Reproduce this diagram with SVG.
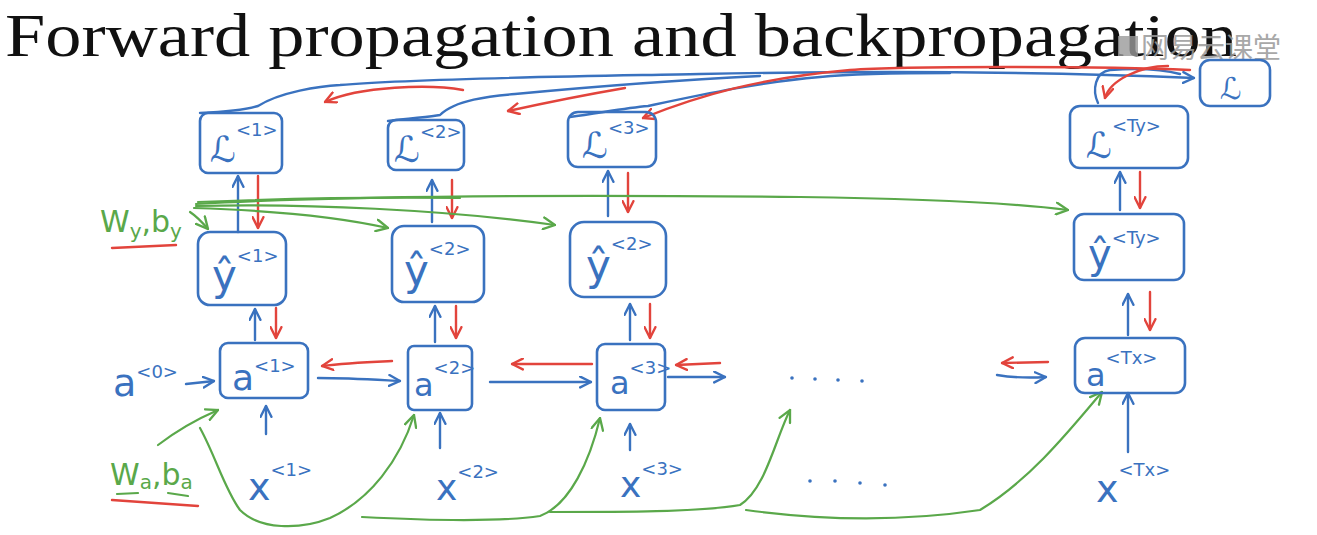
<svg xmlns="http://www.w3.org/2000/svg" width="1317" height="535" viewBox="0 0 1317 535">
<style>
.bx{fill:none;stroke:#3a72bf;stroke-width:2.6;stroke-linecap:round;stroke-linejoin:round}
.b{fill:none;stroke:#3a72bf;stroke-width:2.4;stroke-linecap:round;stroke-linejoin:round}
.r{fill:none;stroke:#e2443c;stroke-width:2.4;stroke-linecap:round;stroke-linejoin:round}
.g{fill:none;stroke:#5aa84a;stroke-width:2.2;stroke-linecap:round;stroke-linejoin:round}
.t{font-family:"DejaVu Sans",sans-serif;fill:#3a72bf}
.big{font-size:36px}
.sup{font-size:18px}
.gt{font-family:"DejaVu Sans",sans-serif;fill:#5aa84a}
</style>
<defs>
<marker id="ab" viewBox="0 0 12 12" refX="11" refY="6" markerWidth="13" markerHeight="13" markerUnits="userSpaceOnUse" orient="auto"><path d="M1,1 L11,6 L1,11" fill="none" stroke="#3a72bf" stroke-width="2.2" stroke-linecap="round"/></marker>
<marker id="ar" viewBox="0 0 12 12" refX="11" refY="6" markerWidth="13" markerHeight="13" markerUnits="userSpaceOnUse" orient="auto"><path d="M1,1 L11,6 L1,11" fill="none" stroke="#e2443c" stroke-width="2.2" stroke-linecap="round"/></marker>
<marker id="ag" viewBox="0 0 12 12" refX="11" refY="6" markerWidth="14" markerHeight="14" markerUnits="userSpaceOnUse" orient="auto"><path d="M1,1 L11,6 L1,11" fill="none" stroke="#5aa84a" stroke-width="2" stroke-linecap="round"/></marker>
</defs>
<rect width="1317" height="535" fill="#ffffff"/>

<text x="5" y="56" font-family="Liberation Serif, serif" font-size="62" fill="#111" textLength="1232" lengthAdjust="spacingAndGlyphs">Forward propagation and backpropagation</text>
<g id="watermark">
<rect x="1118" y="36" width="20" height="20" fill="#9a9a9a" opacity="0.8"/>
<text x="1141" y="58" font-family="Noto Sans CJK SC, sans-serif" font-size="28" fill="#9a9a9a" opacity="0.85">网易云课堂</text>
</g>

<g id="connectors">
<path class="b" d="M200,113 C225,112 245,110 258,106 C280,92 320,86 340,85 C420,78 600,76 700,74 C900,70 1050,72 1194,78" marker-end="url(#ab)"/>
<path class="b" d="M388,121 C410,118 430,117 440,115 C455,100 490,96 515,94 C600,86 680,80 760,76"/>
<path class="b" d="M570,117 C600,113 625,108 648,106 C700,95 760,82 820,77 C850,74 900,73 950,73"/>
<path class="b" d="M1098,103 C1092,90 1095,72 1110,70 C1140,68 1165,70 1180,74"/>
<path class="r" d="M1190,70 C1100,66 900,66 850,70 C760,78 700,95 643,118" marker-end="url(#ar)"/>
<path class="r" d="M625,88 C590,94 540,104 508,111" marker-end="url(#ar)"/>
<path class="r" d="M463,90 C430,84 360,86 325,102" marker-end="url(#ar)"/>
<path class="r" d="M1168,66 C1140,66 1110,80 1105,98" marker-end="url(#ar)"/>
<path class="b" d="M238,232 L238,176" marker-end="url(#ab)"/>
<path class="r" d="M258,176 L258,228" marker-end="url(#ar)"/>
<path class="b" d="M432,222 L432,180" marker-end="url(#ab)"/>
<path class="r" d="M452,180 L452,218" marker-end="url(#ar)"/>
<path class="b" d="M608,216 L608,171" marker-end="url(#ab)"/>
<path class="r" d="M628,173 L628,212" marker-end="url(#ar)"/>
<path class="b" d="M1120,210 L1120,172" marker-end="url(#ab)"/>
<path class="r" d="M1140,172 L1140,208" marker-end="url(#ar)"/>
<path class="b" d="M255,340 L255,309" marker-end="url(#ab)"/>
<path class="r" d="M276,308 L276,338" marker-end="url(#ar)"/>
<path class="b" d="M435,342 L435,306" marker-end="url(#ab)"/>
<path class="r" d="M456,306 L456,338" marker-end="url(#ar)"/>
<path class="b" d="M630,340 L630,304" marker-end="url(#ab)"/>
<path class="r" d="M650,304 L650,338" marker-end="url(#ar)"/>
<path class="b" d="M1128,335 L1128,294" marker-end="url(#ab)"/>
<path class="r" d="M1150,292 L1150,330" marker-end="url(#ar)"/>
<path class="b" d="M266,434 L266,406" marker-end="url(#ab)"/>
<path class="b" d="M440,448 L440,413" marker-end="url(#ab)"/>
<path class="b" d="M630,450 L630,424" marker-end="url(#ab)"/>
<path class="b" d="M1128,452 L1128,393" marker-end="url(#ab)"/>
<path class="b" d="M186,384 L214,381" marker-end="url(#ab)"/>
<path class="b" d="M318,378 C350,378 380,380 400,381" marker-end="url(#ab)"/>
<path class="r" d="M392,361 C370,362 345,363 322,366" marker-end="url(#ar)"/>
<path class="b" d="M490,382 L591,382" marker-end="url(#ab)"/>
<path class="r" d="M592,364 L512,364" marker-end="url(#ar)"/>
<path class="b" d="M668,377 L725,377" marker-end="url(#ab)"/>
<path class="r" d="M720,363 L676,365" marker-end="url(#ar)"/>
<path class="b" d="M997,375 C1015,378 1030,378 1046,377" marker-end="url(#ab)"/>
<path class="r" d="M1048,362 L1002,363" marker-end="url(#ar)"/>
<path class="g" d="M190,212 C196,216 202,222 208,229" marker-end="url(#ag)"/>
<path class="g" d="M194,208 C260,210 330,215 388,228" marker-end="url(#ag)"/>
<path class="g" d="M196,206 C300,203 450,210 555,225" marker-end="url(#ag)"/>
<path class="g" d="M196,204 C350,195 600,195 800,197 C950,199 1020,204 1068,210" marker-end="url(#ag)"/>
<path class="g" d="M198,202 C300,198 380,197 460,198"/>
<path class="g" d="M158,445 C175,432 195,420 218,410" marker-end="url(#ag)"/>
<path class="g" d="M200,428 C215,455 225,490 240,510 C260,530 300,530 330,518 C370,500 400,460 414,415" marker-end="url(#ag)"/>
<path class="g" d="M362,517 C420,520 500,522 540,516 C570,505 590,460 600,418" marker-end="url(#ag)"/>
<path class="g" d="M550,512 C620,512 700,512 740,505 C765,490 775,440 790,410" marker-end="url(#ag)"/>
<path class="g" d="M746,510 C820,520 900,522 980,510 C1030,480 1070,430 1102,392" marker-end="url(#ag)"/>
<path class="r" d="M112,248 L176,245"/>
<path class="r" d="M112,500 L198,506"/>
<path class="g" d="M117,494 L138,493"/>
<path class="g" d="M168,493 L188,496"/>
</g>

<g id="L1"><rect class="bx" x="200" y="113" width="82" height="60" rx="8"/><text class="t big" x="210" y="162">ℒ<tspan class="sup" dy="-26">&lt;1&gt;</tspan></text></g>
<g id="L2"><rect class="bx" x="388" y="120" width="76" height="50" rx="8"/><text class="t big" x="394" y="162">ℒ<tspan class="sup" dy="-24">&lt;2&gt;</tspan></text></g>
<g id="L3"><rect class="bx" x="568" y="112" width="88" height="55" rx="10"/><text class="t big" x="582" y="158">ℒ<tspan class="sup" dy="-24">&lt;3&gt;</tspan></text></g>
<g id="LTy"><rect class="bx" x="1070" y="106" width="118" height="62" rx="10"/><text class="t big" x="1086" y="158">ℒ<tspan class="sup" font-size="20" dy="-26">&lt;Ty&gt;</tspan></text></g>
<g id="Ltotal"><rect class="bx" x="1200" y="60" width="70" height="46" rx="10"/><text class="t" font-size="30" x="1220" y="99">ℒ</text></g>

<g id="yhat1"><rect class="bx" x="198" y="232" width="88" height="73" rx="12"/><text class="t" font-size="42" x="212" y="290">ŷ<tspan class="sup" font-size="20" dy="-28">&lt;1&gt;</tspan></text></g>
<g id="yhat2"><rect class="bx" x="392" y="226" width="92" height="76" rx="12"/><text class="t" font-size="42" x="404" y="285">ŷ<tspan class="sup" font-size="20" dy="-30">&lt;2&gt;</tspan></text></g>
<g id="yhat3"><rect class="bx" x="570" y="222" width="96" height="75" rx="14"/><text class="t" font-size="42" x="586" y="280">ŷ<tspan class="sup" font-size="20" dy="-30">&lt;2&gt;</tspan></text></g>
<g id="yhatTy"><rect class="bx" x="1074" y="214" width="110" height="66" rx="10"/><text class="t" font-size="40" x="1088" y="268">ŷ<tspan class="sup" font-size="20" dy="-24">&lt;Ty&gt;</tspan></text></g>

<g id="a1"><rect class="bx" x="220" y="343" width="88" height="55" rx="8"/><text class="t big" x="232" y="390">a<tspan class="sup" dy="-18">&lt;1&gt;</tspan></text></g>
<g id="a2"><rect class="bx" x="408" y="346" width="64" height="64" rx="6"/><text class="t" font-size="32" x="414" y="396">a<tspan class="sup" font-size="16" dy="-22">&lt;2&gt;</tspan></text></g>
<g id="a3"><rect class="bx" x="597" y="344" width="68" height="66" rx="8"/><text class="t" font-size="32" x="610" y="394">a<tspan class="sup" font-size="17" dy="-20">&lt;3&gt;</tspan></text></g>
<g id="aTx"><rect class="bx" x="1075" y="338" width="110" height="55" rx="10"/><text class="t" font-size="32" x="1086" y="386">a<tspan class="sup" font-size="20" dy="-22">&lt;Tx&gt;</tspan></text></g>

<g id="a0"><text class="t" font-size="38" x="113" y="396">a<tspan class="sup" font-size="20" dy="-18">&lt;0&gt;</tspan></text></g>
<g id="x1"><text class="t" font-size="38" x="248" y="500">x<tspan class="sup" font-size="20" dy="-24">&lt;1&gt;</tspan></text></g>
<g id="x2"><text class="t" font-size="36" x="436" y="500">x<tspan class="sup" font-size="20" dy="-22">&lt;2&gt;</tspan></text></g>
<g id="x3"><text class="t" font-size="36" x="620" y="497">x<tspan class="sup" font-size="20" dy="-22">&lt;3&gt;</tspan></text></g>
<g id="xTx"><text class="t" font-size="38" x="1096" y="502">x<tspan class="sup" font-size="20" dy="-26">&lt;Tx&gt;</tspan></text></g>

<g id="Wy"><text class="gt" font-size="30" x="100" y="232">W<tspan font-size="20" dy="6">y</tspan><tspan dy="-6">,b</tspan><tspan font-size="20" dy="6">y</tspan></text></g>
<g id="Wa"><text class="gt" font-size="30" x="110" y="485">W<tspan font-size="20" dy="4">a</tspan><tspan dy="-4">,b</tspan><tspan font-size="20" dy="4">a</tspan></text></g>

<g id="dots" fill="#3a72bf">
<circle cx="792" cy="378" r="1.8"/><circle cx="815" cy="379" r="1.8"/><circle cx="838" cy="380" r="1.8"/><circle cx="862" cy="381" r="1.8"/>
<circle cx="810" cy="481" r="1.8"/><circle cx="835" cy="481" r="1.8"/><circle cx="860" cy="483" r="1.8"/><circle cx="885" cy="485" r="1.8"/>
</g>
</svg>
